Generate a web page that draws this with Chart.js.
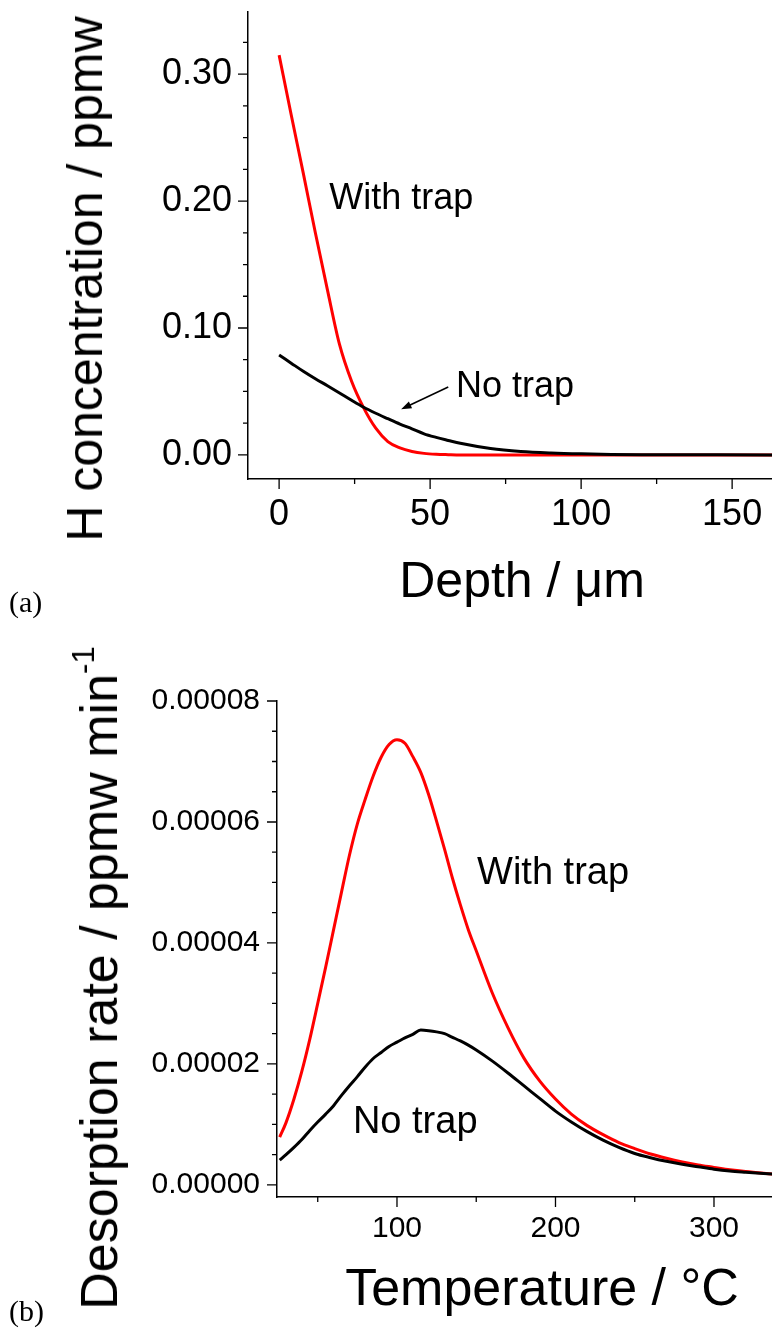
<!DOCTYPE html>
<html>
<head>
<meta charset="utf-8">
<title>Hydrogen depth profile and desorption rate</title>
<script src="https://cdn.jsdelivr.net/npm/chart.js@4.4.0/dist/chart.umd.min.js"></script>
<style>
  html, body { margin: 0; padding: 0; background: #fff; }
  body { position: relative; width: 772px; height: 1331px; overflow: hidden;
         font-family: 'Liberation Sans', Arial, Helvetica, sans-serif; color: #000; }
  .panel { position: absolute; left: 0; width: 772px; }
  #panelA { top: 0; height: 615px; }
  #panelB { top: 615px; height: 716px; }
  .title { position: absolute; white-space: nowrap; line-height: 1; transform: translate(-50%, -50%); }
  .title.vert { transform: translate(-50%, -50%) rotate(-90deg); }
  .title sup { font-size: 0.6em; vertical-align: 0.75em; line-height: 0; }
  .tag { position: absolute; left: 9px; font-family: 'Liberation Serif', 'DejaVu Serif', serif; font-size: 30px; line-height: 1; }
</style>
</head>
<body>
<div class="panel" id="panelA"><canvas id="chartA" width="772" height="615"></canvas></div>
<div class="panel" id="panelB"><canvas id="chartB" width="772" height="716"></canvas></div>

<div class="title vert" style="left:85px; top:279px; font-size:50px;">H concentration / ppmw</div>
<div class="title" style="left:522px; top:580px; font-size:50px;">Depth / μm</div>
<div class="tag" style="top:587px;">(a)</div>

<div class="title vert" style="left:99px; top:978px; font-size:52px;">Desorption rate / ppmw min<sup>-1</sup></div>
<div class="title" style="left:542px; top:1287px; font-size:52px;">Temperature / °C</div>
<div class="tag" style="top:1296px;">(b)</div>

<script>
// (a) hydrogen profile after charging, depth in µm, concentration in ppmw
const depthUm = [0, 4, 8, 12, 16, 20, 24, 28, 32, 36, 40, 44, 48, 52, 56, 60, 70, 80, 90, 100, 110, 120, 140, 165];
const withTrapConc = [0.315, 0.268, 0.222, 0.175, 0.130, 0.087, 0.058, 0.037, 0.021, 0.0105, 0.0055, 0.0027, 0.0012,
  0.0005, 0.0002, 0, 0, 0, 0, 0, 0, 0, 0, 0];
const noTrapConc = [0.0787, 0.0723, 0.0659, 0.0600, 0.0545, 0.0488, 0.0430, 0.0375, 0.0328, 0.0285, 0.0243, 0.0205,
  0.0166, 0.0138, 0.0114, 0.0091, 0.0050, 0.0027, 0.0015, 0.0008, 0.0004, 0.0002, 0.0001, 0];
const depthMajor = [0, 50, 100, 150];
const depthMinor = [25, 75, 125];
const concMajor = [0, 0.1, 0.2, 0.3];
const concMinor = [0.025, 0.05, 0.075, 0.125, 0.15, 0.175, 0.225, 0.25, 0.275, 0.325];

// (b) thermal desorption spectra, temperature in °C, rate in ppmw/min
const tempC = [26, 30, 35, 40, 45, 50, 55, 60, 65, 70, 75, 80, 85, 90, 95, 100, 105, 110, 115, 120, 125, 130, 135,
  140, 145, 150, 160, 170, 180, 190, 200, 210, 220, 230, 240, 250, 260, 270, 280, 290, 300, 310, 320, 337];
const withTrapRate = [7.9e-6, 1.03e-5, 1.42e-5, 1.88e-5, 2.41e-5, 3.0e-5, 3.6e-5, 4.22e-5, 4.84e-5, 5.45e-5, 5.97e-5,
  6.38e-5, 6.76e-5, 7.07e-5, 7.28e-5, 7.36e-5, 7.3e-5, 7.08e-5, 6.82e-5, 6.45e-5, 6.01e-5, 5.55e-5, 5.07e-5,
  4.63e-5, 4.22e-5, 3.87e-5, 3.18e-5, 2.6e-5, 2.1e-5, 1.72e-5, 1.42e-5, 1.17e-5, 9.8e-6, 8.3e-6, 7.0e-6, 6.0e-6,
  5.1e-6, 4.4e-6, 3.8e-6, 3.3e-6, 2.9e-6, 2.5e-6, 2.2e-6, 1.8e-6];
const noTrapRate = [4.1e-6, 5.0e-6, 6.2e-6, 7.5e-6, 9.0e-6, 1.04e-5, 1.17e-5, 1.31e-5, 1.48e-5, 1.64e-5, 1.79e-5,
  1.95e-5, 2.09e-5, 2.19e-5, 2.29e-5, 2.36e-5, 2.43e-5, 2.49e-5, 2.56e-5, 2.55e-5, 2.53e-5, 2.5e-5, 2.44e-5,
  2.38e-5, 2.31e-5, 2.23e-5, 2.05e-5, 1.85e-5, 1.64e-5, 1.43e-5, 1.22e-5, 1.04e-5, 8.8e-6, 7.4e-6, 6.2e-6, 5.2e-6,
  4.5e-6, 3.9e-6, 3.4e-6, 3.0e-6, 2.6e-6, 2.3e-6, 2.1e-6, 1.8e-6];
const tempMajor = [100, 200, 300];
const tempMinor = [50, 150, 250];
const rateMajor = [0, 0.00002, 0.00004, 0.00006, 0.00008];
const rateMinor = [0.000005, 0.00001, 0.000015, 0.000025, 0.00003, 0.000035, 0.000045, 0.00005, 0.000055,
  0.000065, 0.00007, 0.000075];

const FONT = "'Liberation Sans', Arial, Helvetica, sans-serif";

function xy(xs, ys) {
  return xs.map((x, i) => ({ x: x, y: ys[i] }));
}

// tick marks: long ones at the labelled values, short ones in between
const axisTicks = {
  id: 'axisTicks',
  afterDraw(chart, args, opts) {
    const { ctx, scales: { x, y } } = chart;
    ctx.save();
    ctx.strokeStyle = '#000';
    ctx.lineWidth = 1.3;
    ctx.beginPath();
    const xMarks = opts.xMajor.map(v => [v, opts.long]).concat(opts.xMinor.map(v => [v, opts.short]));
    const yMarks = opts.yMajor.map(v => [v, opts.long]).concat(opts.yMinor.map(v => [v, opts.short]));
    xMarks.forEach(([v, len]) => {
      const px = x.getPixelForValue(v);
      ctx.moveTo(px, x.top);
      ctx.lineTo(px, x.top + len);
    });
    yMarks.forEach(([v, len]) => {
      const py = y.getPixelForValue(v);
      ctx.moveTo(y.right, py);
      ctx.lineTo(y.right - len, py);
    });
    ctx.stroke();
    ctx.restore();
  }
};

// curve names written next to the lines, plus the optional pointer arrow
const curveLabels = {
  id: 'curveLabels',
  afterDatasetsDraw(chart, args, opts) {
    const { ctx, scales: { x, y } } = chart;
    ctx.save();
    ctx.fillStyle = '#000';
    ctx.font = `${opts.size}px ${FONT}`;
    ctx.textBaseline = 'alphabetic';
    ctx.textAlign = 'left';
    opts.items.forEach(it => ctx.fillText(it.text, x.getPixelForValue(it.x), y.getPixelForValue(it.y)));
    if (opts.arrow) {
      const a = opts.arrow;
      const x0 = x.getPixelForValue(a.from[0]), y0 = y.getPixelForValue(a.from[1]);
      const x1 = x.getPixelForValue(a.to[0]), y1 = y.getPixelForValue(a.to[1]);
      const ang = Math.atan2(y1 - y0, x1 - x0);
      const head = 11;
      ctx.strokeStyle = '#000';
      ctx.lineWidth = 1.5;
      ctx.beginPath();
      ctx.moveTo(x0, y0);
      ctx.lineTo(x1 - head * 0.8 * Math.cos(ang), y1 - head * 0.8 * Math.sin(ang));
      ctx.stroke();
      ctx.beginPath();
      ctx.moveTo(x1, y1);
      ctx.lineTo(x1 - head * Math.cos(ang - 0.35), y1 - head * Math.sin(ang - 0.35));
      ctx.lineTo(x1 - head * Math.cos(ang + 0.35), y1 - head * Math.sin(ang + 0.35));
      ctx.closePath();
      ctx.fill();
    }
    ctx.restore();
  }
};

function axis(cfg) {
  return {
    type: 'linear',
    min: cfg.min,
    max: cfg.max,
    afterBuildTicks: s => { s.ticks = cfg.major.map(v => ({ value: v })); },
    afterFit: s => {
      if (cfg.width != null) s.width = cfg.width;
      if (cfg.height != null) s.height = cfg.height;
      s.paddingTop = 0; s.paddingBottom = 0; s.paddingLeft = 0; s.paddingRight = 0;
    },
    // tick marks come from axisTicks; the gap still leaves room for them
    grid: { drawOnChartArea: false, drawTicks: false },
    border: { display: true, color: '#000', width: 1.5 },
    ticks: {
      color: '#000',
      padding: cfg.padding,
      autoSkip: false,
      maxRotation: 0,
      font: { family: FONT, size: cfg.fontSize },
      callback: cfg.format
    }
  };
}

function lineSet(label, xs, ys, color) {
  return {
    label: label,
    data: xy(xs, ys),
    borderColor: color,
    borderWidth: 3,
    pointRadius: 0,
    cubicInterpolationMode: 'monotone',
    fill: false
  };
}

Chart.defaults.font.family = FONT;

new Chart(document.getElementById('chartA'), {
  type: 'line',
  data: {
    datasets: [
      lineSet('No trap', depthUm, noTrapConc, '#000000'),
      lineSet('With trap', depthUm, withTrapConc, '#ff0000')
    ]
  },
  options: {
    responsive: false,
    animation: false,
    devicePixelRatio: 1,
    layout: { padding: { top: 12, left: 0, right: 0, bottom: 0 } },
    plugins: {
      legend: { display: false },
      tooltip: { enabled: false },
      axisTicks: { xMajor: depthMajor, xMinor: depthMinor, yMajor: concMajor, yMinor: concMinor, long: 10, short: 5 },
      curveLabels: {
        size: 36,
        items: [
          { text: 'With trap', x: 16.6, y: 0.194 },
          { text: 'No trap', x: 58.6, y: 0.0457 }
        ],
        arrow: { from: [56, 0.0535], to: [40.4, 0.036] }
      }
    },
    scales: {
      x: axis({ min: -10.3, max: 163.2, major: depthMajor, height: 136, padding: 14, fontSize: 36,
        format: v => String(v) }),
      y: axis({ min: -0.019, max: 0.349, major: concMajor, width: 248, padding: 16, fontSize: 36,
        format: v => v.toFixed(2) })
    }
  },
  plugins: [axisTicks, curveLabels]
});

new Chart(document.getElementById('chartB'), {
  type: 'line',
  data: {
    datasets: [
      lineSet('No trap', tempC, noTrapRate, '#000000'),
      lineSet('With trap', tempC, withTrapRate, '#ff0000')
    ]
  },
  options: {
    responsive: false,
    animation: false,
    devicePixelRatio: 1,
    layout: { padding: { top: 86, left: 0, right: 0, bottom: 0 } },
    plugins: {
      legend: { display: false },
      tooltip: { enabled: false },
      axisTicks: { xMajor: tempMajor, xMinor: tempMinor, yMajor: rateMajor, yMinor: rateMinor, long: 10, short: 5 },
      curveLabels: {
        size: 38,
        items: [
          { text: 'With trap', x: 150.5, y: 0.0000497 },
          { text: 'No trap', x: 72.2, y: 0.0000086 }
        ]
      }
    },
    scales: {
      x: axis({ min: 24.3, max: 336.6, major: tempMajor, height: 134, padding: 14, fontSize: 30,
        format: v => String(v) }),
      y: axis({ min: -0.000002, max: 0.00008, major: rateMajor, width: 277, padding: 17, fontSize: 30,
        format: v => v.toFixed(5) })
    }
  },
  plugins: [axisTicks, curveLabels]
});
</script>
</body>
</html>
